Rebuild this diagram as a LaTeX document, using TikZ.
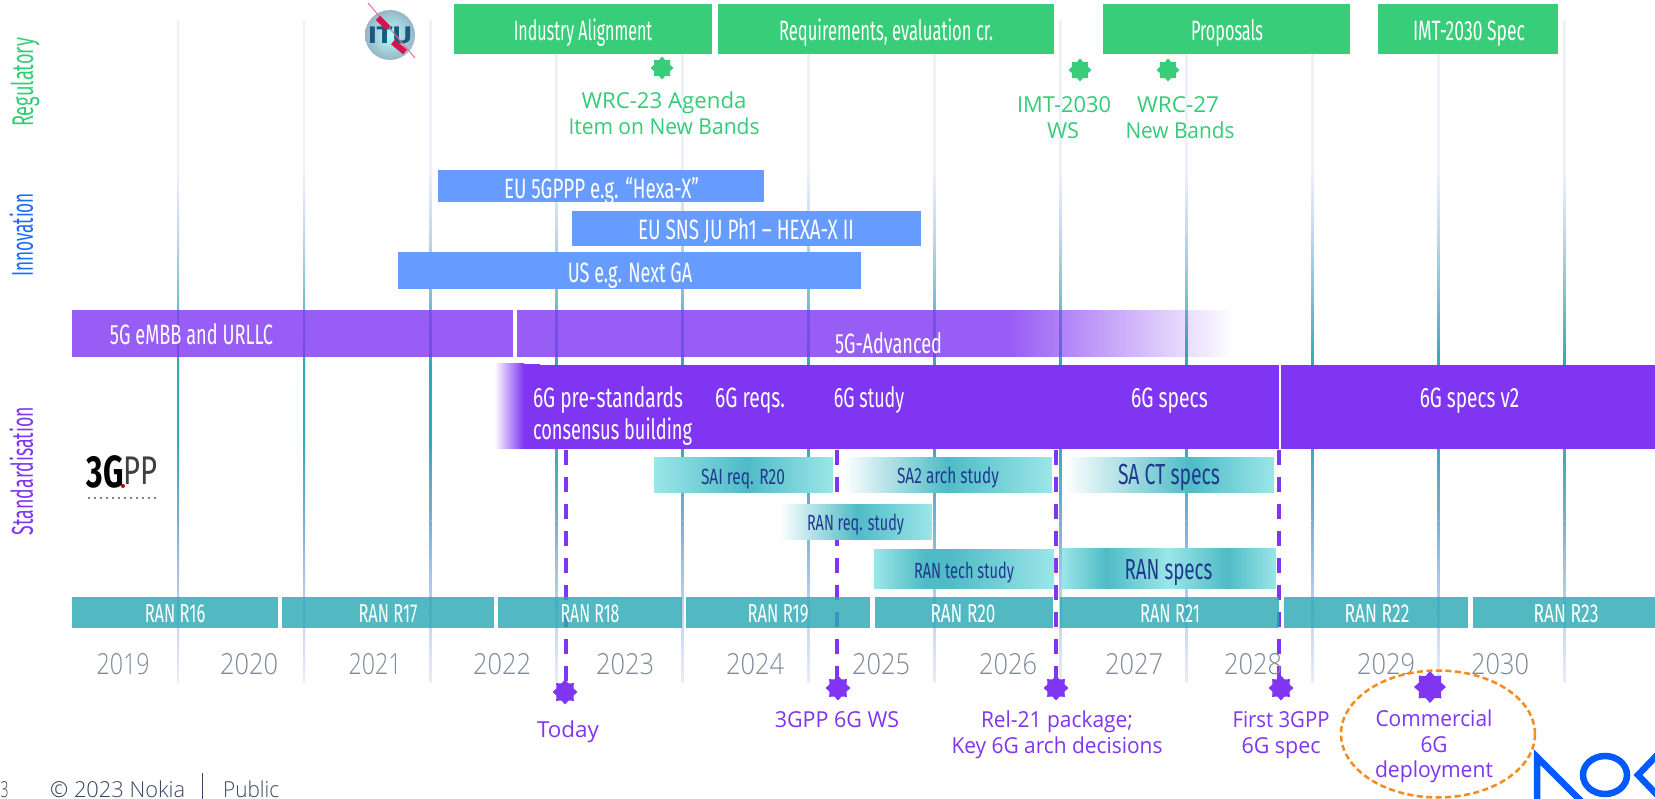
\documentclass[tikz,border=0pt]{standalone}
\usepackage{fontspec}
\usepackage{graphicx}
\setmainfont{Open Sans}
\newfontfamily\barf{Fira Sans}
\newfontfamily\lightf{Open Sans Light}
\usetikzlibrary{shapes.geometric,fadings}
\definecolor{grn}{RGB}{56,205,120}
\definecolor{grntxt}{RGB}{51,204,119}
\definecolor{blubar}{RGB}{102,156,255}
\definecolor{blutxt}{RGB}{26,108,255}
\definecolor{pur}{RGB}{127,53,242}
\definecolor{tealb}{RGB}{44,169,181}
\definecolor{tl}{RGB}{155,230,232}
\definecolor{td}{RGB}{79,187,198}
\definecolor{navy}{RGB}{31,58,140}
\definecolor{yearc}{RGB}{125,138,153}
\definecolor{orng}{RGB}{245,138,31}
\definecolor{nok}{RGB}{0,90,255}
\definecolor{foot}{RGB}{58,70,96}
\definecolor{itub}{RGB}{27,90,128}
\definecolor{itur}{RGB}{216,18,78}
\definecolor{vA}{RGB}{238,241,250}
\definecolor{vB}{RGB}{200,215,240}
\definecolor{vC}{RGB}{45,170,180}
\definecolor{vD}{RGB}{50,170,185}
\definecolor{vE}{RGB}{120,175,215}
\definecolor{vF}{RGB}{190,205,235}
\definecolor{vG}{RGB}{232,236,250}
\tikzset{
  bardraw/.style={inner sep=0,outer sep=0,draw=none},
  greenbar/.style={bardraw,fill=grn},
  bluebar/.style={bardraw,fill=blubar},
  purbar/.style={bardraw,fill=pur,fill opacity=.8},
  ranbar/.style={bardraw,fill=tealb,fill opacity=.82},
  wt/.style={inner sep=0,anchor=base,text=white},
  barlab/.style={wt,font=\barf\fontsize{28}{30}\selectfont},
  ranlab/.style={wt,font=\barf\fontsize{26}{28}\selectfont},
  smalllab/.style={inner sep=0,anchor=base,text=navy,font=\barf\fontsize{22}{24}\selectfont},
  biglab/.style={inner sep=0,anchor=base,text=navy,font=\barf\fontsize{29}{31}\selectfont},
  yearlab/.style={inner sep=0,anchor=base,text=yearc,font=\lightf\fontsize{29}{31}\selectfont},
  glab/.style={inner sep=0,anchor=base,text=grntxt,font=\fontsize{22}{24}\selectfont},
  plab/.style={inner sep=0,anchor=base,text=pur,font=\fontsize{22}{24}\selectfont},
  sidelab/.style={inner sep=0,anchor=base,rotate=90,font=\barf\fontsize{30}{32}\selectfont},
  starb/.style={star,star points=8,star point ratio=1.35,inner sep=0,minimum size=#1,draw=none},
  dashline/.style={pur,line width=3.5pt,dash pattern=on 15pt off 12pt},
  footlab/.style={inner sep=0,anchor=base west,text=foot,font=\lightf\fontsize{22}{24}\selectfont},
}
\newcommand{\fw}[2]{\resizebox{#1pt}{\height}{#2}}
\newcommand{\rbar}[6]{\node[#1,minimum width={(#5-#3)*1pt},minimum height={(#6-#4)*1pt}] (#2) at ({(#3+#5)/2},{(#4+#6)/2}) {};}
\newcommand{\vseg}[5]{\shade[top color=#4,bottom color=#5] (#1-1,#2) rectangle (#1+1,#3);}
\newcommand{\vl}[1]{\vseg{#1}{21}{170.2}{vA}{vA}\vseg{#1}{170}{230.2}{vA}{vB}\vseg{#1}{230}{365.2}{vB}{vC}\vseg{#1}{365}{440.2}{vC}{vD}\vseg{#1}{440}{520.2}{vD}{vE}\vseg{#1}{520}{600.2}{vE}{vF}\vseg{#1}{600}{682}{vF}{vG}}
\newcommand{\hseg}[6]{\shade[left color=#5,right color=#6] (#1,#3) rectangle (#2,#4);}
\newcommand{\lab}[6]{\node[#1] (#2) at (#3,#4) {\fw{#5}{#6}};}
\begin{document}
\begin{tikzpicture}[x=1pt,y=-1pt]
\useasboundingbox (0,0) rectangle (1655,799);
\fill[white] (0,0) rectangle (1655,799);
\clip (0,0) rectangle (1655,799);
% vertical year lines
\foreach \v in {178,304,430.4,556.4,682.4,808.4,934.6,1060.6,1186.6,1312.6,1438.6,1564.5} {\vl{\v}}
% 5G bars
\rbar{purbar}{fiveg}{72}{310}{513}{357}
\rbar{purbar}{fiveadv}{517}{310}{1010}{357}
\fill[pur,fill opacity=.8,path fading=east] (1010,310) rectangle (1233,357);
% stars and dashed milestones
\node[starb=25pt,fill=pur] (today) at (565,692) {};
\node[starb=25pt,fill=pur] (ws) at (838,688) {};
\node[starb=25pt,fill=pur] (rel) at (1056,688) {};
\node[starb=25pt,fill=pur] (first) at (1281,688) {};
\node[starb=32pt,fill=pur] (comm) at (1430,687) {};
\coordinate (today top) at (566,450);
\coordinate (ws top) at (837,450);
\coordinate (rel top) at (1056,450);
\coordinate (first top) at (1279,450);
\draw[dashline] (today top) -- (today top |- today.center);
\draw[dashline] (ws top) -- (ws top |- ws.center);
\draw[dashline] (rel top) -- (rel.center);
\draw[dashline] (first top) -- (first top |- first.center);
% 6G bar
\hseg{494}{524}{364}{449}{white}{pur}
\fill[pur] (523.5,364) rectangle (540,449);
\rbar{bardraw,fill=pur}{sixg}{524}{365}{1655}{449}
\draw[white,line width=1.5pt] (1280,365) -- (1280,449);
% regulatory
\rbar{greenbar}{g1}{454}{4}{712}{54}
\rbar{greenbar}{g2}{718}{4}{1054}{54}
\rbar{greenbar}{g3}{1103}{4}{1350}{54}
\rbar{greenbar}{g4}{1378}{4}{1558}{54}
\lab{barlab}{g1t}{583}{40.5}{138.5}{Industry Alignment}
\lab{barlab}{g2t}{886}{40.5}{214}{Requirements, evaluation cr.}
\lab{barlab}{g3t}{1227}{40.5}{72}{Proposals}
\lab{barlab}{g4t}{1469}{40.5}{112}{IMT-2030 Spec}
\node[starb=23pt,fill=grn] (wrc) at (662,68) {};
\node[starb=23pt,fill=grn] (imt) at (1080,70) {};
\node[starb=23pt,fill=grn] (wrcb) at (1168,70) {};
\lab{glab}{wrc1}{664}{109}{165}{WRC-23 Agenda}
\lab{glab}{wrc2}{664}{134.5}{191}{Item on New Bands}
\lab{glab}{imt1}{1064}{113}{94}{IMT-2030}
\lab{glab}{imt2}{1063}{138.5}{32}{WS}
\lab{glab}{wrcb1}{1178}{113}{82}{WRC-27}
\lab{glab}{wrcb2}{1180}{139}{109}{New Bands}
% innovation
\rbar{bluebar}{b1}{438}{170}{764}{202}
\rbar{bluebar}{b2}{572}{211}{921}{246}
\rbar{bluebar}{b3}{398}{252}{861}{289}
\lab{barlab}{b1t}{601.5}{198.5}{195}{EU 5GPPP e.g. “Hexa-X”}
\lab{barlab}{b2t}{746}{239.5}{216}{EU SNS JU Ph1 – HEXA-X II}
\lab{barlab}{b3t}{630}{282.5}{124.5}{US e.g. Next GA}
% standardisation bar texts
\lab{barlab}{fivegt}{191.5}{345}{163}{5G eMBB and URLLC}
\lab{barlab}{fiveadvt}{888.5}{353.5}{107}{5G-Advanced}
\lab{barlab}{s1}{608}{408}{150}{6G pre-standards}
\lab{barlab}{s2}{612.5}{439.5}{159}{consensus building}
\lab{barlab}{s3}{750}{408}{70}{6G reqs.}
\lab{barlab}{s4}{869}{408}{70.5}{6G study}
\lab{barlab}{s5}{1169.5}{408}{77}{6G specs}
\lab{barlab}{s6}{1469.5}{408}{99.5}{6G specs v2}
% gradient work-item bars
\hseg{654}{746.2}{457}{492}{tl}{td}\hseg{746}{833}{457}{492}{td}{tl}
\hseg{843}{947.2}{457}{492}{white}{td}\hseg{947}{1052}{457}{492}{td}{tl}
\hseg{1064}{1190.2}{457}{492}{white}{td}\hseg{1190}{1274}{457}{492}{td}{tl}
\hseg{779}{857.2}{504}{539}{white}{td}\hseg{857}{932}{504}{539}{td}{tl}
\hseg{874}{925.2}{549}{588}{tl}{td}\hseg{925}{950.2}{549}{588}{td}{td}\hseg{950}{1054}{549}{588}{td}{tl}
\hseg{1062}{1106.2}{548}{588}{tl}{td}\hseg{1106}{1168.2}{548}{588}{td}{tl}\hseg{1168}{1227.2}{548}{588}{tl}{td}\hseg{1227}{1276}{548}{588}{td}{tl}
\lab{smalllab}{w1}{743}{484}{84}{SAI req. R20}
\lab{smalllab}{w2}{948}{483}{102}{SA2 arch study}
\lab{biglab}{w3}{1169}{485}{102}{SA CT specs}
\lab{smalllab}{w4}{855.5}{530}{97}{RAN req. study}
\lab{smalllab}{w5}{964}{578}{100}{RAN tech study}
\lab{biglab}{w6}{1168.5}{579}{88}{RAN specs}
% RAN releases
\rbar{ranbar}{r16}{72}{597}{278}{628}
\rbar{ranbar}{r17}{282}{597}{494}{628}
\rbar{ranbar}{r18}{498}{597}{682}{628}
\rbar{ranbar}{r19}{686}{597}{870}{628}
\rbar{ranbar}{r20}{875}{597}{1053}{628}
\rbar{ranbar}{r21}{1060}{597}{1279}{628}
\rbar{ranbar}{r22}{1284}{597}{1468}{628}
\rbar{ranbar}{r23}{1473}{597}{1655}{628}
\lab{ranlab}{r16t}{175}{622}{60.5}{RAN R16}
\lab{ranlab}{r17t}{388}{622}{59}{RAN R17}
\lab{ranlab}{r18t}{590}{622}{59}{RAN R18}
\lab{ranlab}{r19t}{778}{622}{61}{RAN R19}
\lab{ranlab}{r20t}{963}{622}{65}{RAN R20}
\lab{ranlab}{r21t}{1170}{622}{60}{RAN R21}
\lab{ranlab}{r22t}{1377}{622}{65}{RAN R22}
\lab{ranlab}{r23t}{1566}{622}{65}{RAN R23}
% years
\lab{yearlab}{y19}{123}{674}{53}{2019}
\lab{yearlab}{y20}{249}{674}{58}{2020}
\lab{yearlab}{y21}{375}{674}{53}{2021}
\lab{yearlab}{y22}{502}{674}{58}{2022}
\lab{yearlab}{y23}{625}{674}{58}{2023}
\lab{yearlab}{y24}{755}{674}{58}{2024}
\lab{yearlab}{y25}{881}{674}{58}{2025}
\lab{yearlab}{y26}{1008}{674}{58}{2026}
\lab{yearlab}{y27}{1134}{674}{58}{2027}
\lab{yearlab}{y28}{1253}{674}{58}{2028}
\lab{yearlab}{y29}{1386}{674}{58}{2029}
\lab{yearlab}{y30}{1500}{674}{58}{2030}
% milestone labels
\lab{plab}{m1}{568}{737}{62}{Today}
\lab{plab}{m2}{837}{727}{124.5}{3GPP 6G WS}
\lab{plab}{m3}{1057}{727}{152}{Rel-21 package;}
\lab{plab}{m4}{1057}{753}{211}{Key 6G arch decisions}
\lab{plab}{m5}{1281}{727}{97}{First 3GPP}
\lab{plab}{m6}{1281}{753}{79}{6G spec}
\lab{plab}{m7}{1434}{726}{117}{Commercial}
\lab{plab}{m8}{1434}{752}{27}{6G}
\lab{plab}{m9}{1434}{777}{118}{deployment}
\node[ellipse,draw=orng,line width=2.5pt,dash pattern=on 6pt off 3.5pt,inner sep=0,minimum width=194pt,minimum height=127pt] (circle) at (1438,734) {};
% side labels
\node[sidelab,text=grntxt] (side1) at (33,82.5) {\fw{89}{Regulatory}};
\node[sidelab,text=blutxt] (side2) at (33,235) {\fw{84}{Innovation}};
\node[sidelab,text=pur] (side3) at (33,471) {\fw{128}{Standardisation}};
% ITU logo
\shade[inner color=white!70!cyan,outer color=itub!45!white] (390,35) circle (25);
\node[inner sep=0,anchor=base,text=itub,font=\barf\bfseries\fontsize{24}{26}\selectfont] (itu) at (390,44) {\fw{44}{ITU}};
\draw[itur!60!white,line width=1pt] (368,3) -- (415,58);
\draw[itur,line width=6pt] (378,18) -- (388,28);
\draw[itur,line width=6pt] (393,42) -- (405,52);
% 3GPP logo
\node[inner sep=0,anchor=base,text=black,font=\barf\bfseries\fontsize{45}{47}\selectfont] (tg) at (105,488) {\fw{37}{3G}};
\node[inner sep=0,anchor=base,text=black!75,font=\barf\fontsize{40}{42}\selectfont] (pp) at (140,484) {\fw{34}{PP}};
\fill[red!80!black] (123,486) circle (2);
\draw[gray,line width=1.5pt,dash pattern=on 2pt off 4pt] (88,498) -- (158,498);
% footer
\node[footlab] (f1) at (0.5,797) {\fw{8}{3}};
\node[footlab] (f2) at (50,797) {\fw{135}{© 2023 Nokia}};
\node[footlab] (f3) at (223,797) {\fw{56}{Public}};
\draw[foot,line width=1pt] (202,773) -- (202,799);
% Nokia logo
\draw[nok,line width=6.5pt,miter limit=10] (1537,803) -- (1537,757) -- (1581,801);
\draw[nok,line width=6.5pt] (1605,775) ellipse (22 and 19);
\draw[nok,line width=6.5pt,miter limit=10] (1660,752) -- (1638,775) -- (1660,798);
\end{tikzpicture}
\end{document}
